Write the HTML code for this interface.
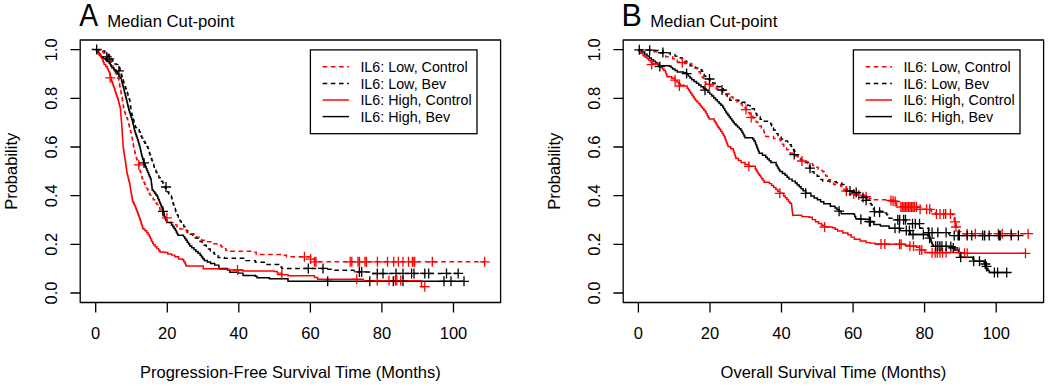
<!DOCTYPE html>
<html><head><meta charset="utf-8"><style>
html,body{margin:0;padding:0;background:#fff;width:1050px;height:386px;overflow:hidden}
svg{display:block}
text{font-family:"Liberation Sans",sans-serif;fill:#000}
.t{font-size:16.5px}
.leg{font-size:14.3px}
.mid{font-size:16.7px}
.big{font-size:30.5px}
</style></head><body>
<svg width="1050" height="386" viewBox="0 0 1050 386"><rect width="1050" height="386" fill="#fff"/><rect x="80.2" y="40" width="420.40000000000003" height="262.5" fill="none" stroke="#000" stroke-width="1.3" stroke-linejoin="round"/>
<path d="M70.4,293.0H80.2M70.4,244.3H80.2M70.4,195.7H80.2M70.4,147.0H80.2M70.4,98.4H80.2M70.4,49.7H80.2" stroke="#000" stroke-width="1.3" fill="none"/>
<text transform="translate(57,293.0) rotate(-90)" text-anchor="middle" class="t">0.0</text>
<text transform="translate(57,244.3) rotate(-90)" text-anchor="middle" class="t">0.2</text>
<text transform="translate(57,195.7) rotate(-90)" text-anchor="middle" class="t">0.4</text>
<text transform="translate(57,147.0) rotate(-90)" text-anchor="middle" class="t">0.6</text>
<text transform="translate(57,98.4) rotate(-90)" text-anchor="middle" class="t">0.8</text>
<text transform="translate(57,49.7) rotate(-90)" text-anchor="middle" class="t">1.0</text>
<text transform="translate(17,171.3) rotate(-90)" text-anchor="middle" class="t">Probability</text>
<path d="M95.7,302.5V312.6M167.3,302.5V312.6M238.8,302.5V312.6M310.4,302.5V312.6M381.9,302.5V312.6M453.5,302.5V312.6" stroke="#000" stroke-width="1.3" fill="none"/>
<text x="95.7" y="338.6" text-anchor="middle" class="t">0</text>
<text x="167.3" y="338.6" text-anchor="middle" class="t">20</text>
<text x="238.8" y="338.6" text-anchor="middle" class="t">40</text>
<text x="310.4" y="338.6" text-anchor="middle" class="t">60</text>
<text x="381.9" y="338.6" text-anchor="middle" class="t">80</text>
<text x="453.5" y="338.6" text-anchor="middle" class="t">100</text>
<text x="290.4" y="377.9" text-anchor="middle" class="t">Progression-Free Survival Time (Months)</text>
<text transform="translate(79.2,26.2) scale(0.93,1)" class="big">A</text>
<text x="107.2" y="26.6" class="mid">Median Cut-point</text>
<path d="M95.7,49.7H103.0V51.0H104.8V52.8H106.5V54.5H108.2V56.2H110.0V58.0H111.4V60.0H112.8V61.9H114.2V63.9H116.5V64.6H118.0V66.5H119.6V68.5H120.1V70.4H120.7V72.3H121.2V74.2H121.7V76.2H122.3V78.1H122.8V80.0H123.4V81.7H123.9V83.5H124.5V85.2H125.1V86.9H125.7V88.6H126.2V90.3H126.8V92.1H127.4V93.8H128.0V95.5H128.5V97.2H129.1V99.0H129.7V100.7H129.9V102.5H130.2V104.2H130.4V106.0H130.7V107.8H130.9V109.6H131.2V111.3H131.4V113.1H131.9V114.9H132.4V116.7H132.9V118.5H133.4V120.3H134.0V122.2H134.5V124.0H135.0V125.8H135.5V127.6H137.3V129.7H139.2V131.8H140.1V133.9H140.9V135.9H141.8V138.0H142.8V139.7H143.9V141.5H144.9V143.2H145.9V144.8H146.8V146.4H147.8V148.0H148.4V149.7H148.9V151.5H149.4V153.2H150.0V154.9H150.6V156.7H151.1V158.4H151.8V160.3H152.4V162.3H153.1V164.2H153.7V166.1H154.3V168.1H155.0V170.0H156.0V171.9H156.9V173.9H157.9V175.9H158.9V177.8H160.2V179.5H161.4V181.3H162.7V183.0H163.6V184.8H164.5V186.5H165.4V188.2H166.3V190.0H167.6V191.9H168.9V193.9H170.2V195.9H171.5V197.8H172.0V199.6H172.5V201.4H173.0V203.2H173.5V205.0H174.0V206.8H174.7V208.4H175.3V210.1H175.9V211.7H176.6V213.3H177.4V215.2H178.3V217.2H179.2V219.2H180.0V221.1H181.3V223.0H182.6V224.9H183.8V226.8H185.1V228.6H186.4V230.5H187.7V232.4H190.3V234.2H192.8V236.1H195.4V237.9H198.0V239.7H200.1V241.6H202.2V243.4H204.2V245.3H206.3V247.1H208.4V249.0H210.3V250.7H212.3V252.4H214.2V254.1H216.2V255.8H218.1V257.5H224.3V258.3H246.1V260.6H255.4V262.2H266.3V264.5H278.7V266.9H281.8V268.4H323.0H327.0V269.2H335.0V270.3H354.0H354.0V271.9H371.6H371.6V273.5H458.2" stroke="#000000" stroke-width="1.45" fill="none" stroke-dasharray="4.6 3.6"/>
<path d="M95.7,49.7H101.8V50.7H102.9V52.6H104.1V54.5H105.8V56.2H107.4V58.0H109.0V59.8H110.7V61.5H111.5V63.6H112.2V65.7H113.0V67.8H113.8V69.5H114.6V71.3H115.4V73.0H116.3V74.8H117.1V76.5H117.9V78.3H118.7V80.0H119.0V81.7H119.3V83.5H119.6V85.2H119.9V86.9H120.2V88.6H120.6V90.3H120.9V92.1H121.2V93.8H121.5V95.5H121.8V97.2H122.1V99.0H122.4V100.7H122.7V102.4H123.0V104.1H123.2V105.8H123.5V107.6H123.8V109.3H124.1V111.0H124.7V112.7H125.4V114.3H126.0V116.0H126.7V117.6H127.3V119.3H127.8V121.2H128.3V123.1H128.8V125.0H129.4V126.9H129.9V128.8H130.4V130.7H130.8V132.6H131.2V134.4H131.6V136.3H132.0V138.1H132.4V140.0H132.7V141.8H133.0V143.5H133.3V145.3H133.6V147.1H133.9V148.8H134.2V150.6H134.7V152.4H135.2V154.2H135.8V156.1H136.3V157.9H136.8V159.7H137.3V161.5H137.8V163.3H138.4V165.1H138.9V166.9H139.4V168.7H139.9V170.4H140.3V172.0H140.8V173.7H141.3V175.4H141.8V177.1H142.2V178.7H142.7V180.4H143.7V182.3H144.6V184.2H145.6V186.2H146.5V188.1H147.5V190.0H148.3V191.6H149.1V193.2H149.9V194.9H150.7V196.5H152.0V198.1H153.3V199.8H154.6V201.4H155.9V203.0H156.9V204.6H157.9V206.2H158.8V207.8H159.8V209.4H160.8V211.0H161.8V212.7H162.7V214.3H163.7V215.9H164.7V217.5H165.6V219.2H166.6V220.8H167.6V222.4H174.0V225.0H177.0V226.9H180.0V228.9H183.5V230.6H186.9V232.2H190.4V233.8H193.9V235.5H196.5V237.1H199.1V238.7H201.6V240.2H204.2V241.8H212.5V243.8H216.8V245.2H221.2V246.7H223.6V248.6H225.9V250.5H230.5V251.3H253.9V252.1H256.2V254.4H283.4V255.2H286.5V256.8H304.4H310.6V259.1H314.5V261.8H484.7" stroke="#ff0000" stroke-width="1.45" fill="none" stroke-dasharray="4.6 3.6"/>
<path d="M95.7,49.7H97.9V52.2H98.9V53.8H100.0V55.3H101.0V56.9H103.3V58.5H105.7V60.0H107.6V61.5H109.5V63.1H110.3V64.7H111.1V66.2H111.9V67.8H113.8V69.7H115.8V71.6H117.3V74.0H118.7V76.0H120.0V78.0H121.4V80.0H121.8V81.7H122.3V83.5H122.7V85.2H123.1V86.9H123.6V88.6H124.0V90.3H124.4V92.1H124.9V93.8H125.3V95.5H125.7V97.2H126.2V99.0H126.6V100.7H127.0V102.6H127.5V104.4H127.9V106.3H128.4V108.1H128.8V110.0H129.4V111.9H130.0V113.8H130.6V115.7H131.2V117.6H131.8V119.5H132.4V121.4H132.8V123.3H133.2V125.1H133.7V127.0H134.1V128.8H134.5V130.7H135.1V132.6H135.7V134.4H136.4V136.3H137.0V138.1H137.6V140.0H138.2V142.0H138.8V144.0H139.4V146.0H140.0V148.0H140.4V149.8H140.8V151.6H141.2V153.5H141.6V155.3H142.0V157.1H142.7V159.0H143.3V160.9H143.9V162.9H144.6V164.8H145.4V166.8H146.2V168.7H147.0V170.7H147.8V172.6H148.6V174.6H149.4V176.5H150.3V178.4H151.1V180.4H151.3V182.3H151.5V184.2H151.8V186.2H152.0V188.1H152.2V190.0H153.4V191.6H154.7V193.2H155.9V194.9H157.2V196.5H157.8V198.1H158.5V199.8H159.2V201.4H159.8V203.0H160.6V204.9H161.4V206.8H162.2V208.8H163.0V210.7H163.5V212.6H164.0V214.6H164.5V216.6H165.0V218.5H165.9V220.4H166.9V222.4H171.5V225.0H172.8V226.7H174.0V228.5H175.3V230.2H176.2V231.9H177.0V233.6H177.9V235.3H183.5V236.6H184.7V238.5H186.0V240.3H187.2V242.2H188.5V244.0H189.7V245.9H191.8V247.8H193.9V249.6H195.9V251.5H198.0V253.3H200.1V255.2H201.5V256.9H202.8V258.7H204.2V260.4H207.3V261.9H210.5V263.5H214.7V265.1H218.9V266.6H218.9V268.4H227.4V270.0H229.8V272.3H238.3V273.1H243.0V275.4H255.4V276.2H257.0V277.7H267.9H269.4V278.8H281.8H288.0V281.3H464.0" stroke="#000000" stroke-width="1.45" fill="none"/>
<path d="M95.7,49.7H96.6V51.4H97.5V53.0H98.9V54.8H100.4V56.6H101.8V58.4H102.6V60.5H103.3V62.5H104.1V64.6H105.7V66.5H107.2V68.5H108.0V70.1H108.7V71.6H109.5V73.2H109.9V74.9H110.3V76.6H110.8V78.3H111.2V80.0H111.8V81.7H112.4V83.5H113.0V85.2H113.6V86.9H114.2V88.6H114.8V90.3H115.3V92.1H115.9V93.8H116.5V95.5H117.1V97.2H117.7V99.0H118.3V100.7H118.7V102.6H119.2V104.4H119.6V106.3H120.1V108.1H120.5V110.0H120.6V111.9H120.8V113.8H120.9V115.6H121.1V117.5H121.2V119.4H121.4V121.3H121.5V123.2H121.7V125.1H121.8V126.9H122.0V128.8H122.1V130.7H122.2V132.4H122.3V134.2H122.4V135.9H122.5V137.6H122.7V139.3H122.8V141.1H122.9V142.8H123.0V144.5H123.1V146.3H123.2V148.0H123.5V149.9H123.8V151.7H124.1V153.6H124.3V155.4H124.6V157.3H124.9V159.1H125.2V161.0H125.5V162.8H125.7V164.7H126.0V166.5H126.3V168.4H126.6V170.2H126.8V172.1H127.1V173.9H127.5V175.6H128.0V177.4H128.4V179.1H128.8V180.8H129.3V182.6H129.7V184.3H130.0V186.2H130.3V188.1H130.6V190.0H130.9V191.9H131.3V193.9H131.6V195.8H131.9V197.8H132.3V199.8H132.6V201.7H133.5V203.4H134.3V205.1H135.2V206.8H135.8V208.5H136.5V210.3H137.1V212.0H137.8V213.7H138.4V215.5H139.1V217.2H139.7V218.9H140.2V220.5H140.8V222.2H141.3V223.9H141.9V225.6H142.4V227.2H143.0V228.9H144.9V230.8H146.8V232.7H148.1V234.6H149.4V236.6H150.2V238.3H151.0V240.0H151.8V241.6H152.7V243.3H153.5V244.9H155.2V246.8H157.0V248.6H158.7V250.5H160.0V252.0H164.7V252.4H167.8V253.9H171.7V255.1H174.8V256.7H178.6V259.0H182.5V259.8H183.7V261.4H184.9V262.9H185.4V264.4H186.0V266.0H202.2H203.2V268.7H215.0H219.7V269.2H229.0V270.0H243.0V271.0H274.0V271.5H277.2V273.1H281.8V274.6H288.0V275.7H311.4H314.5V277.5H317.6V279.3H363.5H363.5V280.6H421.5H421.5V282.6H421.5V284.7H421.5V286.7H424.8" stroke="#ff0000" stroke-width="1.45" fill="none"/>
<path d="M133.8,164.8h10M138.8,159.8v10M161.9,217.8h10M166.9,212.8v10M299.4,256.8h10M304.4,251.8v10M305.6,259.1h10M310.6,254.1v10M309.5,261.8h10M314.5,256.8v10M311.0,261.8h10M316.0,256.8v10M345.2,261.8h10M350.2,256.8v10M346.8,261.8h10M351.8,256.8v10M353.0,261.8h10M358.0,256.8v10M354.5,261.8h10M359.5,256.8v10M360.0,261.8h10M365.0,256.8v10M361.5,261.8h10M366.5,256.8v10M372.4,261.8h10M377.4,256.8v10M382.5,261.8h10M387.5,256.8v10M388.7,261.8h10M393.7,256.8v10M393.4,261.8h10M398.4,256.8v10M398.0,261.8h10M403.0,256.8v10M403.5,261.8h10M408.5,256.8v10M407.4,261.8h10M412.4,256.8v10M409.0,261.8h10M414.0,256.8v10M409.7,261.8h10M414.7,256.8v10M427.3,261.8h10M432.3,256.8v10M479.7,261.8h10M484.7,256.8v10" stroke="#ff0000" stroke-width="1.3" fill="none"/>
<path d="M161.0,187.0h10M166.0,182.0v10M303.3,268.4h10M308.3,263.4v10M318.0,268.4h10M323.0,263.4v10M354.4,271.9h10M359.4,266.9v10M356.7,271.9h10M361.7,266.9v10M372.3,273.5h10M377.3,268.5v10M378.0,273.5h10M383.0,268.5v10M391.0,273.4h10M396.0,268.4v10M398.0,273.4h10M403.0,268.4v10M406.6,273.4h10M411.6,268.4v10M409.0,273.4h10M414.0,268.4v10M419.8,273.4h10M424.8,268.4v10M423.7,273.4h10M428.7,268.4v10M441.5,273.4h10M446.5,268.4v10M453.2,273.4h10M458.2,268.4v10" stroke="#000000" stroke-width="1.3" fill="none"/>
<path d="M105.2,77.8h10M110.2,72.8v10M232.5,270.0h10M237.5,265.0v10M276.8,274.6h10M281.8,269.6v10M351.7,279.3h10M356.7,274.3v10M372.3,280.6h10M377.3,275.6v10M384.0,280.6h10M389.0,275.6v10M390.3,280.6h10M395.3,275.6v10M391.8,280.6h10M396.8,275.6v10M395.7,280.6h10M400.7,275.6v10M419.8,286.7h10M424.8,281.7v10" stroke="#ff0000" stroke-width="1.3" fill="none"/>
<path d="M91.7,49.5h10M96.7,44.5v10M101.8,56.9h10M106.8,51.9v10M104.2,58.8h10M109.2,53.8v10M113.9,70.9h10M118.9,65.9v10M139.0,162.9h10M144.0,157.9v10M158.0,211.4h10M163.0,206.4v10M322.7,281.3h10M327.7,276.3v10M364.8,281.3h10M369.8,276.3v10M388.3,281.3h10M393.3,276.3v10M398.0,281.3h10M403.0,276.3v10M439.0,281.3h10M444.0,276.3v10M446.0,281.3h10M451.0,276.3v10M459.0,281.3h10M464.0,276.3v10" stroke="#000000" stroke-width="1.3" fill="none"/>
<rect x="310.4" y="49.9" width="166.6" height="83.8" fill="#fff" stroke="#000" stroke-width="1.3"/>
<path d="M322.59999999999997,66.8H349.0" stroke="#ff0000" stroke-width="1.45" stroke-dasharray="4.6 3.6"/>
<text x="360.4" y="72.0" class="leg">IL6: Low, Control</text>
<path d="M322.59999999999997,83.4H349.0" stroke="#000000" stroke-width="1.45" stroke-dasharray="4.6 3.6"/>
<text x="360.4" y="88.6" class="leg">IL6: Low, Bev</text>
<path d="M322.59999999999997,100.0H349.0" stroke="#ff0000" stroke-width="1.45"/>
<text x="360.4" y="105.2" class="leg">IL6: High, Control</text>
<path d="M322.59999999999997,116.6H349.0" stroke="#000000" stroke-width="1.45"/>
<text x="360.4" y="121.8" class="leg">IL6: High, Bev</text><rect x="623.2" y="40" width="420.39999999999986" height="262.5" fill="none" stroke="#000" stroke-width="1.3" stroke-linejoin="round"/>
<path d="M613.4,293.0H623.2M613.4,244.3H623.2M613.4,195.7H623.2M613.4,147.0H623.2M613.4,98.4H623.2M613.4,49.7H623.2" stroke="#000" stroke-width="1.3" fill="none"/>
<text transform="translate(600,293.0) rotate(-90)" text-anchor="middle" class="t">0.0</text>
<text transform="translate(600,244.3) rotate(-90)" text-anchor="middle" class="t">0.2</text>
<text transform="translate(600,195.7) rotate(-90)" text-anchor="middle" class="t">0.4</text>
<text transform="translate(600,147.0) rotate(-90)" text-anchor="middle" class="t">0.6</text>
<text transform="translate(600,98.4) rotate(-90)" text-anchor="middle" class="t">0.8</text>
<text transform="translate(600,49.7) rotate(-90)" text-anchor="middle" class="t">1.0</text>
<text transform="translate(560,171.3) rotate(-90)" text-anchor="middle" class="t">Probability</text>
<path d="M638.4,302.5V312.6M710.0,302.5V312.6M781.5,302.5V312.6M853.1,302.5V312.6M924.6,302.5V312.6M996.2,302.5V312.6" stroke="#000" stroke-width="1.3" fill="none"/>
<text x="638.4" y="338.6" text-anchor="middle" class="t">0</text>
<text x="710.0" y="338.6" text-anchor="middle" class="t">20</text>
<text x="781.5" y="338.6" text-anchor="middle" class="t">40</text>
<text x="853.1" y="338.6" text-anchor="middle" class="t">60</text>
<text x="924.6" y="338.6" text-anchor="middle" class="t">80</text>
<text x="996.2" y="338.6" text-anchor="middle" class="t">100</text>
<text x="833.4" y="377.9" text-anchor="middle" class="t">Overall Survival Time (Months)</text>
<text transform="translate(621.6,26.2) scale(1.0,1)" class="big">B</text>
<text x="650.2" y="26.6" class="mid">Median Cut-point</text>
<path d="M638.4,49.7H653.0V50.5H662.9V52.6H667.2V52.9H670.3V54.5H675.0V56.1H680.4V58.0H682.5V59.6H684.6V61.1H686.7V62.7H688.4V64.2H690.1V65.8H695.6V68.1H698.7V69.7H701.8V71.2H702.6V72.8H703.3V74.3H704.1V75.9H705.7V77.5H707.2V79.0H710.0V81.0H712.7V82.9H715.0V84.8H717.3V86.8H720.3V88.7H723.3V90.6H724.6V92.5H725.9V94.4H727.2V96.4H728.5V98.3H729.8V100.2H738.9V100.8H741.9V102.3H744.9V103.9H747.9V105.4H750.1V107.1H752.2V108.8H754.4V110.5H755.2V112.1H756.0V113.8H756.8V115.4H757.6V117.0H760.2V119.2H762.9V121.3H770.7V123.9H771.6V125.9H772.6V128.0H773.5V130.0H775.0V131.8H776.6V133.6H778.1V135.4H779.7V137.2H781.2V139.0H784.5V141.0H787.7V143.0H789.4V144.7H791.2V146.4H792.9V148.1H793.5V149.7H794.2V151.3H794.9V153.0H795.5V154.6H797.5V156.6H799.4V158.5H801.3V160.4H803.3V162.4H809.1V164.5H809.5V166.3H810.0V168.2H810.5V170.0H810.9V171.8H814.0V174.1H817.2V176.3H819.0V177.8H820.9V179.4H822.7V180.9H830.0V181.8H836.3V182.7H841.7V184.5H844.0V186.8H846.3V189.0H849.5V191.0H853.7V192.9H857.8V194.8H862.0V196.7H864.4V198.4H866.8V200.1H869.2V201.8H870.2V203.4H871.3V205.0H872.3V207.1H873.4V209.1H874.4V211.2H885.5V213.0H886.7V214.7H887.9V216.5H889.1V218.2H893.9V219.8H905.5H905.9V221.8H906.3V223.7H919.5H919.8V225.2H920.0V226.8H920.3V228.3H928.5H928.8V230.4H929.0V232.6H947.8H948.8V234.1H949.9V235.6H1018.4" stroke="#000000" stroke-width="1.45" fill="none" stroke-dasharray="4.6 3.6"/>
<path d="M638.4,49.7H647.0V49.8H654.0V51.8H660.2V53.3H663.0V55.0H665.7V56.8H672.7V58.8H675.0V60.3H677.3V61.9H684.7V63.4H691.7V65.8H694.4V67.8H697.1V69.7H698.7V71.7H700.2V73.6H701.2V75.1H702.3V76.7H703.3V78.2H704.1V80.0H704.9V81.9H705.7V83.7H709.5V86.0H712.9V87.3H716.2V88.9H719.4V90.5H722.7V92.2H725.9V93.8H729.2V95.4H731.2V97.0H733.1V98.6H735.0V100.2H737.0V101.8H739.6V103.8H742.2V105.7H744.8V107.7H746.1V109.4H747.4V111.1H748.6V112.7H749.9V114.4H751.2V116.1H752.8V118.0H754.5V120.0H756.1V122.0H757.7V123.9H759.5V125.9H761.3V128.0H763.1V130.0H763.8V131.6H764.4V133.2H765.1V134.9H765.7V136.5H773.5V138.4H780.0V140.4H781.3V142.3H782.5V144.2H783.8V146.2H785.1V148.1H786.8V149.8H788.6V151.6H790.3V153.3H795.5V155.9H797.9V157.9H800.3V159.8H802.7V161.8H807.7V163.6H812.7V165.4H815.4V167.2H818.1V169.1H820.4V170.4H822.7V171.8H824.2V173.9H825.7V176.0H827.2V178.1H828.8V179.7H830.4V181.3H832.0V182.9H833.6V184.5H840.8V186.3H842.3V187.9H843.9V189.4H845.4V191.0H852.6V193.1H859.9V195.1H864.5V196.9H869.2V198.7H870.9V199.8H888.5V200.2H895.7V201.8H896.1V203.3H896.4V204.9H896.8V206.4H917.5V207.5H920.6V209.3H930.5H931.2V211.4H935.4V214.0H952.0H952.8V216.2H953.5V218.3H954.2V220.1H955.0V221.8H955.3V223.5H955.7V225.3H956.0V227.0H957.0V228.5H958.0V230.0H959.4V231.8H960.8V233.7H1028.1" stroke="#ff0000" stroke-width="1.45" fill="none" stroke-dasharray="4.6 3.6"/>
<path d="M638.4,49.7H641.5V51.9H644.7V54.1H647.0V56.0H649.3V58.0H651.4V59.6H653.5V61.1H655.6V62.7H657.5V64.2H659.4V65.8H669.5V66.2H671.1V67.6H672.7V68.9H675.0V70.5H677.3V72.0H683.5V72.8H686.6V74.3H688.3V76.1H690.0V78.0H691.7V79.8H694.0V81.5H696.4V83.3H698.7V85.0H701.0V86.8H703.5V88.5H705.9V90.2H707.9V92.2H709.8V94.1H711.8V96.0H713.7V98.0H715.5V99.8H717.3V101.6H719.1V103.4H720.9V105.2H722.7V107.0H723.7V108.6H724.7V110.2H725.6V111.9H726.6V113.5H727.9V115.2H729.2V117.0H730.5V118.7H731.8V120.4H733.1V122.2H734.4V123.9H736.0V125.5H737.6V127.1H739.3V128.7H740.9V130.3H741.9V132.2H743.0V134.1H744.0V135.9H745.0V137.8H752.7V139.0H754.0V141.0H755.3V143.0H755.9V144.7H756.6V146.4H757.2V148.2H757.9V149.9H758.6V151.6H759.2V153.3H762.5V155.2H765.7V157.2H767.4V158.9H769.2V160.7H770.9V162.4H776.1V165.0H777.1V166.6H778.0V168.2H779.0V169.9H780.0V171.5H782.5V173.4H785.1V175.3H787.0V177.2H788.9V179.1H792.1V181.1H795.3V183.0H797.2V184.9H799.2V186.8H801.1V188.8H803.1V190.7H805.7V193.3H810.9V195.9H814.1V197.9H817.4V199.8H820.6V201.8H823.8V203.7H830.3V206.3H835.0V208.0H837.0V209.6H839.1V211.2H841.2V213.8H853.7V214.3H854.7V216.4H855.7V218.6H860.9V219.2H870.0V221.8H873.8V224.4H880.4V226.0H889.1V228.3H900.0H900.1V230.6H910.0H910.1V232.6H910.2V234.5H926.5H928.0V236.3H929.6V238.2H930.3V239.8H931.0V241.4H931.7V243.1H932.4V244.7H933.1V246.3H951.0H952.7V248.1H954.4V249.9H958.5V251.4H959.4V252.8H960.0V255.1H960.7V257.3H972.4H973.0V259.2H973.7V261.2H984.0V261.8H984.4V263.3H984.9V264.9H985.3V266.4H986.6V268.4H987.9V270.5H989.2V272.5H1006.7" stroke="#000000" stroke-width="1.45" fill="none"/>
<path d="M638.4,49.7H639.2V51.5H640.0V53.3H643.1V55.7H645.0V57.2H647.0V58.8H648.8V60.3H650.6V61.9H652.4V63.4H657.9V65.8H660.8V67.3H662.3V68.9H663.9V70.4H665.4V72.0H665.9V73.6H666.5V75.1H667.0V76.7H671.7V78.2H674.8V80.5H677.1V82.1H678.7V83.7H680.2V85.2H684.1V86.0H687.2V88.3H688.4V89.8H689.5V91.4H690.7V93.2H691.9V95.0H693.1V96.9H694.3V98.7H695.5V100.5H697.0V102.1H698.5V103.8H700.0V105.4H701.3V107.0H702.6V108.6H703.9V110.2H705.2V111.8H706.2V113.6H707.2V115.4H708.1V117.2H709.1V119.0H714.2V120.9H715.2V122.5H716.2V124.2H717.1V125.8H718.1V127.4H719.4V129.3H720.7V131.3H722.0V133.2H723.3V135.2H724.2V136.5H724.9V138.2H725.5V139.9H726.2V141.7H726.8V143.4H727.5V145.1H728.1V146.8H730.7V148.8H733.3V150.7H733.9V152.6H734.6V154.6H735.2V156.6H735.9V158.5H738.5V160.4H741.1V162.4H745.0V164.4H748.9V166.3H755.3V168.9H756.3V170.5H757.2V172.1H758.2V173.7H759.2V175.3H760.5V177.1H761.7V178.8H763.0V180.6H764.2V182.3H769.4V183.6H771.6V185.5H773.7V187.5H775.9V189.4H777.8V191.4H779.8V193.3H783.7V195.9H785.3V197.7H786.8V199.5H788.4V201.4H789.9V203.2H791.5V205.0H791.7V206.7H791.9V208.4H792.1V210.2H792.3V211.9H792.5V213.6H792.7V215.3H801.8V216.6H809.1V217.3H812.3V219.6H815.5V221.8H818.5V223.5H821.6V225.3H824.6V227.0H832.4V227.7H835.0V229.3H837.6V230.9H842.8V232.9H847.9V234.8H851.1V237.1H854.4V239.3H860.2V240.9H866.1V242.6H870.0V243.1H875.2V244.2H898.0H905.2V245.2H909.4V246.2H916.6V247.3H919.7V249.9H924.9V252.5H959.4H960.0V253.3H1025.5" stroke="#ff0000" stroke-width="1.45" fill="none"/>
<path d="M677.3,62.7h10M682.3,57.7v10M704.5,84.4h10M709.5,79.4v10M741.0,109.6h10M746.0,104.6v10M746.2,117.4h10M751.2,112.4v10M797.0,161.0h10M802.0,156.0v10M841.4,191.0h10M846.4,186.0v10M848.7,194.0h10M853.7,189.0v10M853.8,195.1h10M858.8,190.1v10M861.1,196.7h10M866.1,191.7v10M886.0,200.5h10M891.0,195.5v10M888.1,201.0h10M893.1,196.0v10M890.2,201.5h10M895.2,196.5v10M895.9,207.0h10M900.9,202.0v10M897.5,207.0h10M902.5,202.0v10M899.0,207.0h10M904.0,202.0v10M900.5,207.0h10M905.5,202.0v10M902.0,207.0h10M907.0,202.0v10M903.5,207.0h10M908.5,202.0v10M905.0,207.0h10M910.0,202.0v10M906.5,207.0h10M911.5,202.0v10M908.0,207.0h10M913.0,202.0v10M909.5,207.0h10M914.5,202.0v10M911.5,207.0h10M916.5,202.0v10M915.1,209.3h10M920.1,204.3v10M921.6,209.3h10M926.6,204.3v10M924.7,209.3h10M929.7,204.3v10M931.4,214.0h10M936.4,209.0v10M935.0,214.0h10M940.0,209.0v10M938.7,214.0h10M943.7,209.0v10M940.7,214.0h10M945.7,209.0v10M945.4,214.0h10M950.4,209.0v10M950.0,221.8h10M955.0,216.8v10M951.0,227.0h10M956.0,222.0v10M962.0,233.7h10M967.0,228.7v10M970.3,233.7h10M975.3,228.7v10M993.3,233.7h10M998.3,228.7v10M997.2,233.7h10M1002.2,228.7v10M1006.2,233.7h10M1011.2,228.7v10M1023.1,233.7h10M1028.1,228.7v10" stroke="#ff0000" stroke-width="1.3" fill="none"/>
<path d="M644.7,50.2h10M649.7,45.2v10M657.9,52.6h10M662.9,47.6v10M704.5,79.0h10M709.5,74.0v10M717.0,90.0h10M722.0,85.0v10M789.2,154.6h10M794.2,149.6v10M805.0,168.2h10M810.0,163.2v10M845.0,191.0h10M850.0,186.0v10M851.2,192.5h10M856.2,187.5v10M858.0,197.5h10M863.0,192.5v10M861.1,200.3h10M866.1,195.3v10M869.4,211.7h10M874.4,206.7v10M874.6,212.2h10M879.6,207.2v10M892.8,219.8h10M897.8,214.8v10M894.7,219.8h10M899.7,214.8v10M898.6,219.8h10M903.6,214.8v10M900.5,219.8h10M905.5,214.8v10M907.5,223.7h10M912.5,218.7v10M910.3,223.7h10M915.3,218.7v10M914.5,223.7h10M919.5,218.7v10M923.5,232.6h10M928.5,227.6v10M927.1,232.6h10M932.1,227.6v10M932.8,232.6h10M937.8,227.6v10M941.1,232.6h10M946.1,227.6v10M949.2,235.6h10M954.2,230.6v10M953.1,235.6h10M958.1,230.6v10M954.4,235.6h10M959.4,230.6v10M962.2,235.6h10M967.2,230.6v10M966.7,235.6h10M971.7,230.6v10M977.7,235.6h10M982.7,230.6v10M979.7,235.6h10M984.7,230.6v10M984.2,235.6h10M989.2,230.6v10M993.9,235.6h10M998.9,230.6v10M995.2,235.6h10M1000.2,230.6v10M1006.2,235.6h10M1011.2,230.6v10M1013.4,235.6h10M1018.4,230.6v10" stroke="#000000" stroke-width="1.3" fill="none"/>
<path d="M646.7,64.6h10M651.7,59.6v10M670.1,80.1h10M675.1,75.1v10M674.4,86.0h10M679.4,81.0v10M743.9,166.3h10M748.9,161.3v10M774.8,193.3h10M779.8,188.3v10M819.6,227.0h10M824.6,222.0v10M876.0,243.9h10M881.0,238.9v10M879.8,243.9h10M884.8,238.9v10M894.5,244.2h10M899.5,239.2v10M896.1,244.2h10M901.1,239.2v10M904.9,246.2h10M909.9,241.2v10M908.5,246.2h10M913.5,241.2v10M914.7,249.9h10M919.7,244.9v10M916.8,249.9h10M921.8,244.9v10M927.1,252.8h10M932.1,247.8v10M930.2,252.8h10M935.2,247.8v10M932.3,252.8h10M937.3,247.8v10M934.9,252.8h10M939.9,247.8v10M937.5,252.8h10M942.5,247.8v10M941.1,252.8h10M946.1,247.8v10M954.4,252.6h10M959.4,247.6v10M959.6,253.3h10M964.6,248.3v10M962.2,253.3h10M967.2,248.3v10M1020.5,253.3h10M1025.5,248.3v10" stroke="#ff0000" stroke-width="1.3" fill="none"/>
<path d="M634.3,49.8h10M639.3,44.8v10M654.8,66.6h10M659.8,61.6v10M681.6,73.6h10M686.6,68.6v10M700.0,90.2h10M705.0,85.2v10M800.7,193.3h10M805.7,188.3v10M834.1,211.2h10M839.1,206.2v10M855.9,219.2h10M860.9,214.2v10M864.3,221.5h10M869.3,216.5v10M865.4,221.8h10M870.4,216.8v10M890.0,228.3h10M895.0,223.3v10M894.3,228.3h10M899.3,223.3v10M901.3,230.6h10M906.3,225.6v10M904.4,230.6h10M909.4,225.6v10M908.0,234.5h10M913.0,229.5v10M918.4,234.5h10M923.4,229.5v10M924.6,238.2h10M929.6,233.2v10M930.7,246.3h10M935.7,241.3v10M932.8,246.3h10M937.8,241.3v10M934.9,246.3h10M939.9,241.3v10M936.9,246.3h10M941.9,241.3v10M941.1,246.3h10M946.1,241.3v10M945.8,246.6h10M950.8,241.6v10M948.3,248.0h10M953.3,243.0v10M955.7,257.3h10M960.7,252.3v10M968.7,261.2h10M973.7,256.2v10M974.5,261.2h10M979.5,256.2v10M980.3,264.0h10M985.3,259.0v10M981.5,266.4h10M986.5,261.4v10M989.4,272.5h10M994.4,267.5v10M992.6,272.5h10M997.6,267.5v10M1001.7,272.5h10M1006.7,267.5v10" stroke="#000000" stroke-width="1.3" fill="none"/>
<rect x="853.4" y="49.9" width="166.6" height="83.8" fill="#fff" stroke="#000" stroke-width="1.3"/>
<path d="M865.6,66.8H892.0" stroke="#ff0000" stroke-width="1.45" stroke-dasharray="4.6 3.6"/>
<text x="903.4" y="72.0" class="leg">IL6: Low, Control</text>
<path d="M865.6,83.4H892.0" stroke="#000000" stroke-width="1.45" stroke-dasharray="4.6 3.6"/>
<text x="903.4" y="88.6" class="leg">IL6: Low, Bev</text>
<path d="M865.6,100.0H892.0" stroke="#ff0000" stroke-width="1.45"/>
<text x="903.4" y="105.2" class="leg">IL6: High, Control</text>
<path d="M865.6,116.6H892.0" stroke="#000000" stroke-width="1.45"/>
<text x="903.4" y="121.8" class="leg">IL6: High, Bev</text></svg>
</body></html>
